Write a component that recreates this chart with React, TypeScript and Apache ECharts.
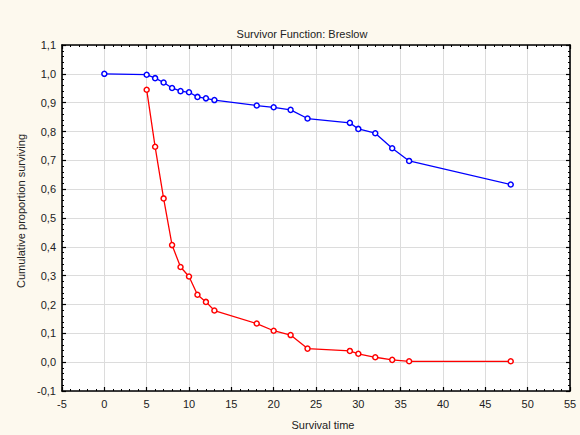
import React, { useEffect, useRef } from "react";
import * as echarts from "echarts";

const timesBlue = [0, 5, 6, 7, 8, 9, 10, 11, 12, 13, 18, 20, 22, 24, 29, 30, 32, 34, 36, 48];
const survBlue = [1.0, 0.997, 0.985, 0.97, 0.951, 0.94, 0.936, 0.92, 0.915, 0.909, 0.89, 0.884, 0.875, 0.845, 0.83, 0.809, 0.794, 0.742, 0.698, 0.616];
const timesRed = [5, 6, 7, 8, 9, 10, 11, 12, 13, 18, 20, 22, 24, 29, 30, 32, 34, 36, 48];
const survRed = [0.945, 0.747, 0.568, 0.406, 0.33, 0.297, 0.234, 0.209, 0.179, 0.134, 0.109, 0.094, 0.047, 0.039, 0.029, 0.017, 0.008, 0.003, 0.003];

const titleText = "Survivor Function: Breslow";
const xName = "Survival time";
const yName = "Cumulative proportion surviving";

const FONT = "'Liberation Sans', Arial, sans-serif";

export default function App() {
  const ref = useRef<HTMLDivElement>(null);
  useEffect(() => {
    document.body.style.margin = "0";
    const chart = echarts.init(ref.current!, null, { renderer: "svg" });
    const fmtY = (v: number) => {
      if (Math.abs(v) < 1e-9) return "0,0";
      return v.toFixed(1).replace(".", ",");
    };
    const axisCommon = {
      axisLine: { show: true, onZero: false, lineStyle: { color: "#000", width: 1.6 } },
      axisTick: { show: true, inside: true, length: 4, lineStyle: { color: "#000", width: 1.2 } },
      minorTick: { show: true, splitNumber: 5, length: 2, lineStyle: { color: "#000", width: 1 } },
    };
    chart.setOption({
      animation: false,
      backgroundColor: "#fdf9ee",
      textStyle: { fontFamily: FONT },
      title: {
        text: titleText,
        left: 297,
        textAlign: "center",
        top: 23,
        textStyle: { fontSize: 11, fontWeight: "normal", color: "#222", fontFamily: FONT },
      },
      grid: {
        left: 62,
        right: 10,
        top: 45,
        bottom: 42,
        show: true,
        backgroundColor: "#ffffff",
        borderWidth: 0,
      },
      xAxis: [
        {
          type: "value",
          min: -5,
          max: 55,
          interval: 5,
          position: "bottom",
          ...axisCommon,
          axisLabel: { fontSize: 11, color: "#222", margin: 7, fontFamily: FONT },
          splitLine: { show: true, lineStyle: { color: "#dcdcdc", width: 1 } },
          name: xName,
          nameLocation: "middle",
          nameGap: 28,
          nameTextStyle: { fontSize: 11, color: "#222", fontFamily: FONT, padding: [0, 0, 0, 14] },
        },
        {
          type: "value",
          min: -5,
          max: 55,
          interval: 5,
          position: "top",
          ...axisCommon,
          axisLabel: { show: false },
          splitLine: { show: false },
        },
      ],
      yAxis: [
        {
          type: "value",
          min: -0.1,
          max: 1.1,
          interval: 0.1,
          position: "left",
          ...axisCommon,
          axisLabel: { fontSize: 11, color: "#222", margin: 6, formatter: fmtY, fontFamily: FONT },
          splitLine: { show: true, lineStyle: { color: "#dcdcdc", width: 1 } },
          name: yName,
          nameLocation: "middle",
          nameGap: 36,
          nameTextStyle: { fontSize: 11, color: "#222", fontFamily: FONT, padding: [0, 0, 0, 14] },
        },
        {
          type: "value",
          min: -0.1,
          max: 1.1,
          interval: 0.1,
          position: "right",
          ...axisCommon,
          axisLabel: { show: false },
          splitLine: { show: false },
        },
      ],
      series: [
        {
          type: "line",
          data: timesBlue.map((t, i) => [t, survBlue[i]]),
          symbol: "circle",
          symbolSize: 5,
          showAllSymbol: true,
          lineStyle: { color: "#0000ff", width: 1.3 },
          itemStyle: { color: "#ffffff", borderColor: "#0000ff", borderWidth: 1.5 },
          z: 3,
        },
        {
          type: "line",
          data: timesRed.map((t, i) => [t, survRed[i]]),
          symbol: "circle",
          symbolSize: 5,
          showAllSymbol: true,
          lineStyle: { color: "#ff0000", width: 1.3 },
          itemStyle: { color: "#ffffff", borderColor: "#ff0000", borderWidth: 1.5 },
          z: 3,
        },
      ],
    });
    return () => chart.dispose();
  }, []);
  return <div ref={ref} style={{ width: 580, height: 435 }} />;
}
